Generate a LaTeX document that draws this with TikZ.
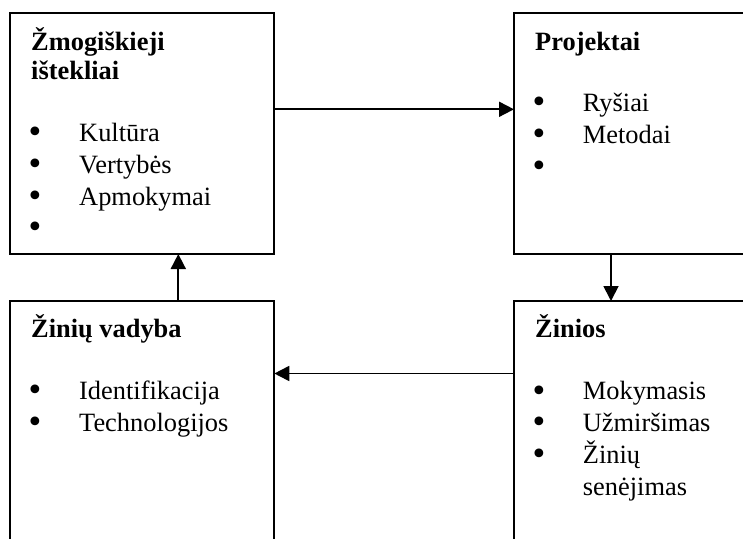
\documentclass[tikz,border=0pt]{standalone}
\usepackage{fontspec}
\setmainfont{Liberation Serif}
\newfontfamily\bulletfont{DejaVu Sans}
\usetikzlibrary{arrows.meta}
\begin{document}
\begin{tikzpicture}[x=1pt,y=-1pt,
  panel/.style={draw, line width=1.8pt, rectangle, anchor=north west,
    inner sep=0pt, outer sep=0pt},
  head/.style={font=\fontsize{26.4}{31.7}\selectfont\bfseries,
    anchor=base west, inner sep=0pt},
  item/.style={font=\fontsize{26.4}{31.7}\selectfont,
    anchor=base west, inner sep=0pt},
  dot/.style={font=\bulletfont\fontsize{30}{30}\selectfont,
    anchor=center, inner sep=0pt},
  link/.style={line width=1.8pt, -{Triangle[length=15pt,width=15pt]}}]
\useasboundingbox (0,0) rectangle (743,538);

% the four panels (right and bottom ones run off the page)
\node[panel, minimum width=264pt, minimum height=240.7pt] (tl) at (10.3,13.3) {};
\node[panel, minimum width=260pt, minimum height=240.7pt] (tr) at (514,13.3) {};
\node[panel, minimum width=264pt, minimum height=270pt]   (bl) at (10.3,301) {};
\node[panel, minimum width=260pt, minimum height=270pt]   (br) at (514,301) {};

% human resources
\node[head] (tlh1) at (31,50.5) {Žmogiškieji};
\node[head] (tlh2) at (31,79.5) {ištekliai};
\node[dot] (tlb1) at (35,135.2) {•};
\node[dot] (tlb2) at (35,166.8) {•};
\node[dot] (tlb3) at (35,198.5) {•};
\node[dot] (tlb4) at (35,230) {•};
\node[item] (tli1) at (79,141.7) {Kultūra};
\node[item] (tli2) at (79,173.3) {Vertybės};
\node[item] (tli3) at (79,205) {Apmokymai};

% projects
\node[head] (trh) at (535,50) {Projektai};
\node[dot] (trb1) at (539.3,105.2) {•};
\node[dot] (trb2) at (539.3,137) {•};
\node[dot] (trb3) at (539.3,168.5) {•};
\node[item] (tri1) at (582.7,111.7) {Ryšiai};
\node[item] (tri2) at (582.7,143.5) {Metodai};

% knowledge management
\node[head] (blh) at (31,337.3) {Žinių vadyba};
\node[dot] (blb1) at (35,393) {•};
\node[dot] (blb2) at (35,425) {•};
\node[item] (bli1) at (79,399.5) {Identifikacija};
\node[item] (bli2) at (79,431.5) {Technologijos};

% knowledge
\node[head] (brh) at (535,337.3) {Žinios};
\node[dot] (brb1) at (539.3,393.5) {•};
\node[dot] (brb2) at (539.3,424.5) {•};
\node[dot] (brb3) at (539.3,456.8) {•};
\node[item] (bri1) at (582.7,399.5) {Mokymasis};
\node[item] (bri2) at (582.7,431) {Užmiršimas};
\node[item] (bri3) at (582.7,463) {Žinių};
\node[item] (bri4) at (582.7,495) {senėjimas};

% connectors
\coordinate (rowA) at (0,109.3);
\coordinate (colB) at (611,0);
\coordinate (rowC) at (0,373.5);
\coordinate (colD) at (178.3,0);
\draw[link] (tl.east |- rowA) -- (tr.west |- rowA);
\draw[link] (tr.south -| colB) -- (br.north -| colB);
\draw[link] (br.west |- rowC) -- (bl.east |- rowC);
\draw[link] (bl.north -| colD) -- (tl.south -| colD);
\end{tikzpicture}
\end{document}
